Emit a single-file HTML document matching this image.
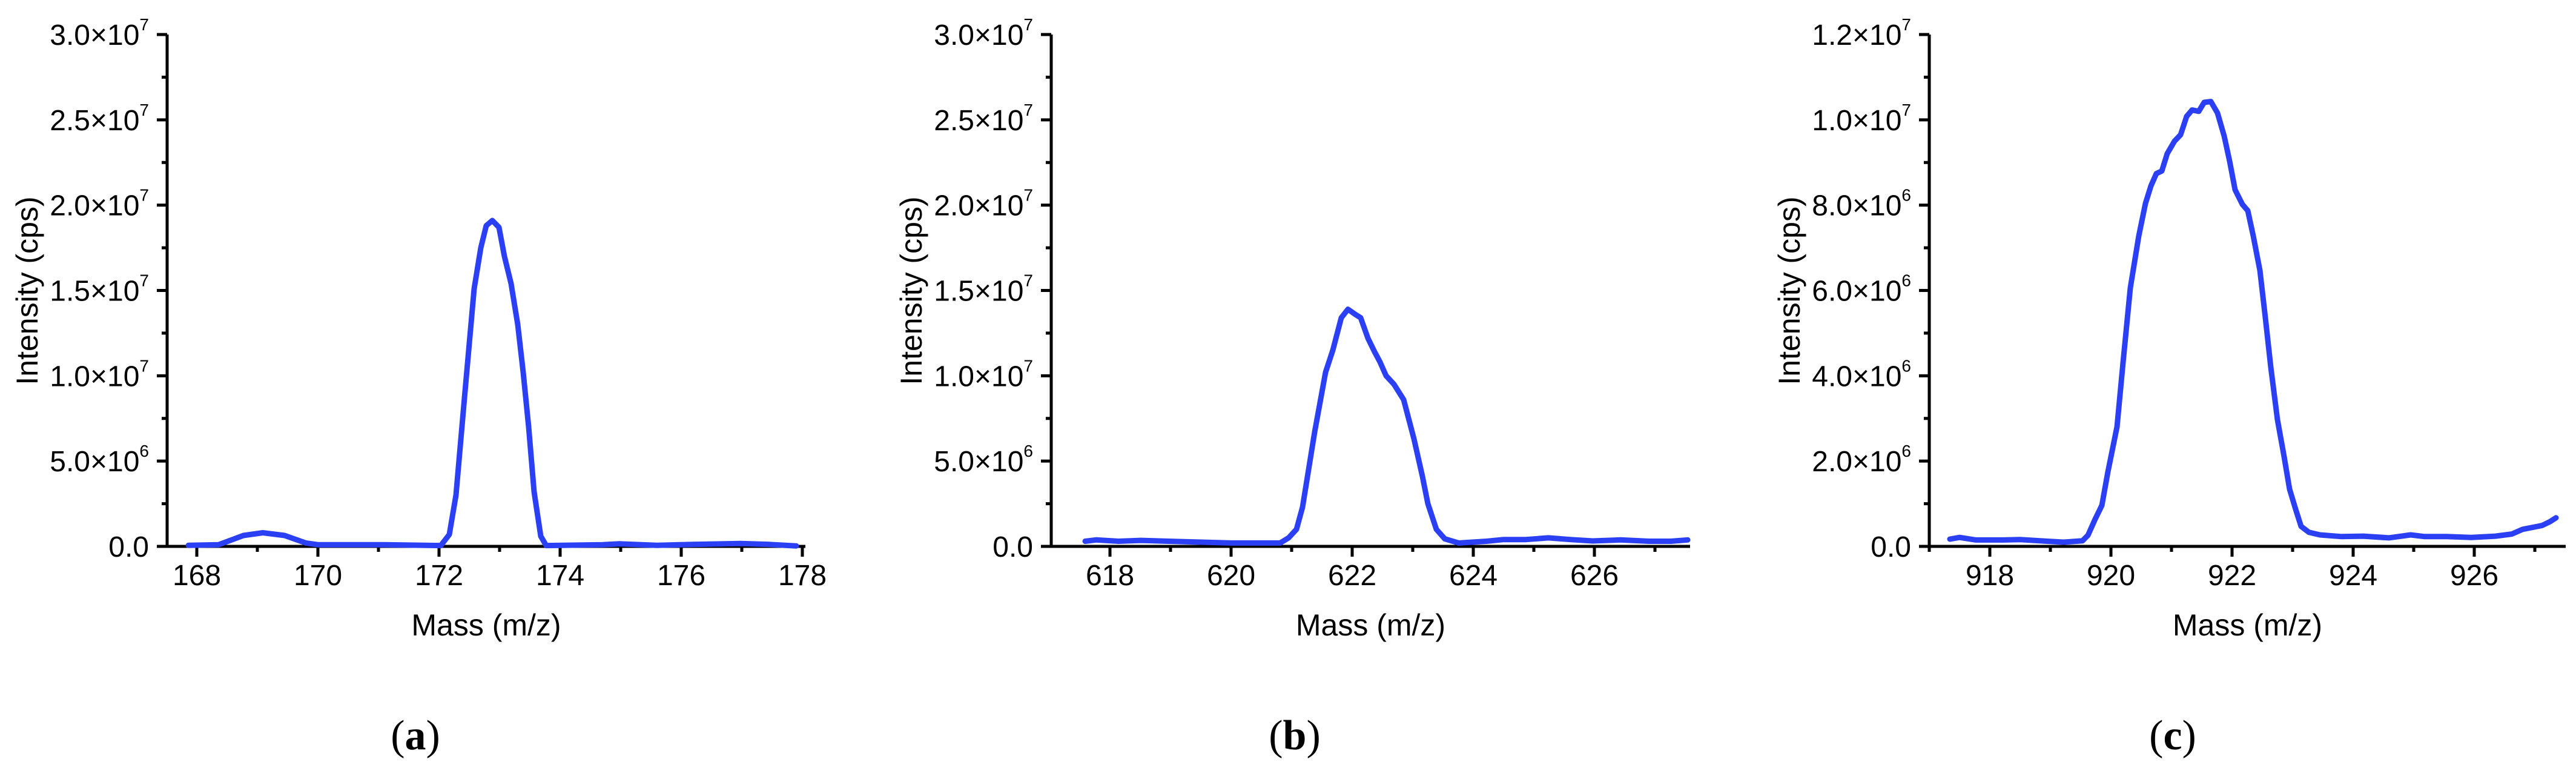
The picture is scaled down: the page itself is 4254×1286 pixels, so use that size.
<!DOCTYPE html>
<html><head><meta charset="utf-8">
<style>
html,body{margin:0;padding:0;background:#fff;}
svg{display:block;}
text{font-family:"Liberation Sans",sans-serif;fill:#000;}
.cap{font-family:"Liberation Serif",serif;}
</style></head>
<body>
<svg id="fig" width="4254" height="1286" viewBox="0 0 4254 1286" xmlns="http://www.w3.org/2000/svg"></svg>
<script>
// Panel (a) data: m/z and intensity (x1e7 cps)
const massA = [167.86,168.36,168.77,169.09,169.45,169.8,170,171.1,172.03,172.17,172.28,172.42,172.58,172.69,172.78,172.88,172.99,173.08,173.19,173.30,173.39,173.48,173.57,173.68,173.77,174.7,174.97,175.6,175.98,176.98,177.43,177.9];
const intA = [0.006,0.01,0.064,0.08,0.064,0.02,0.01,0.01,0.005,0.07,0.3,0.87,1.51,1.75,1.88,1.91,1.87,1.70,1.54,1.30,1.02,0.70,0.32,0.06,0.005,0.01,0.015,0.006,0.01,0.017,0.012,0.003];
// Panel (b) data: intensity (x1e7 cps)
const massB = [617.59,617.77,618.14,618.51,618.97,620,620.81,620.95,621.08,621.18,621.38,621.56,621.68,621.82,621.93,622.05,622.14,622.26,622.37,622.46,622.56,622.69,622.85,623.02,623.16,623.25,623.39,623.53,623.76,624.22,624.5,624.87,625.24,625.6,625.97,626.43,626.9,627.26,627.54];
const intB = [0.03,0.038,0.03,0.035,0.03,0.02,0.02,0.05,0.10,0.23,0.67,1.02,1.15,1.34,1.39,1.36,1.34,1.22,1.14,1.08,1.00,0.95,0.86,0.63,0.41,0.25,0.10,0.044,0.02,0.03,0.04,0.04,0.05,0.04,0.032,0.038,0.03,0.03,0.038];
// Panel (c) data: intensity (x1e6 cps)
const massC = [917.34,917.5,917.77,918.23,918.5,918.95,919.22,919.53,919.62,919.74,919.85,919.95,920.1,920.2,920.32,920.46,920.57,920.66,920.75,920.84,920.93,921.05,921.15,921.25,921.34,921.45,921.54,921.65,921.76,921.87,921.96,922.05,922.17,922.26,922.35,922.46,922.55,922.64,922.75,922.86,922.95,923.05,923.14,923.27,923.45,923.81,924.17,924.59,924.95,925.18,925.54,925.95,926.35,926.62,926.8,927.12,927.25,927.35];
const intC = [0.17,0.21,0.15,0.15,0.16,0.12,0.10,0.13,0.26,0.64,0.96,1.75,2.80,4.31,6.06,7.28,8.04,8.45,8.74,8.80,9.21,9.50,9.65,10.08,10.23,10.20,10.41,10.43,10.16,9.62,9.03,8.36,8.02,7.87,7.28,6.47,5.36,4.20,2.97,2.10,1.34,0.87,0.47,0.33,0.27,0.23,0.24,0.20,0.27,0.23,0.23,0.21,0.24,0.29,0.40,0.49,0.58,0.67];
// Tick labels
const xTicksA = [168,170,172,174,176,178];
const xTicksB = [618,620,622,624,626];
const xTicksC = [918,920,922,924,926];
const yTicksAB = [["0.0",""],["5.0×10","6"],["1.0×10","7"],["1.5×10","7"],["2.0×10","7"],["2.5×10","7"],["3.0×10","7"]];
const yTicksC = [["0.0",""],["2.0×10","6"],["4.0×10","6"],["6.0×10","6"],["8.0×10","6"],["1.0×10","7"],["1.2×10","7"]];

const NS = "http://www.w3.org/2000/svg";
const svg = document.getElementById('fig');
function mk(tag, attrs, parent){ const e=document.createElementNS(NS,tag); for(const k in attrs) e.setAttribute(k,attrs[k]); (parent||svg).appendChild(e); return e; }

const Y0 = 902, YTOP = 57;
function panel(id, cfg){
  const g = mk('g',{});
  
  
  const xs = v => cfg.refX + (v - cfg.ref) * 100;
  const ys = v => Y0 - v / cfg.ymax * (Y0 - YTOP);
  const ax = mk('path',{d:`M${cfg.ax} ${YTOP} V${Y0} H${cfg.axEnd}`, fill:'none', stroke:'#000','stroke-width':5}, g);
  
  
  const nY = cfg.yLabels.length;
  for(let i=0;i<nY;i++){
    const v = cfg.ymax * i/(nY-1);
    const y = ys(v);
    mk('line',{x1:cfg.ax-17,x2:cfg.ax,y1:y,y2:y,stroke:'#000','stroke-width':5},g);
    if(i<nY-1){ const ym=ys(v+cfg.ymax/(nY-1)/2); mk('line',{x1:cfg.ax-9,x2:cfg.ax,y1:ym,y2:ym,stroke:'#000','stroke-width':5},g); }
    const t = mk('text',{x:cfg.ax-30,y:y+17,'font-size':48,'text-anchor':'end'},g);
    
    
    t.textContent = cfg.yLabels[i][0];
    if(cfg.yLabels[i][1]){ const s=document.createElementNS(NS,'tspan'); s.setAttribute('font-size','28'); s.setAttribute('dy','-24'); s.textContent=cfg.yLabels[i][1]; t.appendChild(s); }
  }
  const lo = Math.ceil(cfg.ref - (cfg.refX-cfg.ax)/100), hi = Math.floor(cfg.ref + (cfg.axEnd-cfg.refX)/100);
  for(let v=lo; v<=hi; v++){
    const x = xs(v);
    const major = cfg.xTicks.indexOf(v)>=0;
    mk('line',{x1:x,x2:x,y1:Y0,y2:Y0+(major?17:9),stroke:'#000','stroke-width':5},g);
    if(major){ const t=mk('text',{x:x,y:966,'font-size':48,'text-anchor':'middle'},g);   t.textContent=v; }
  }
  const xt = mk('text',{x:(cfg.ax+cfg.axEnd)/2,y:1049,'font-size':50,'text-anchor':'middle'},g);
  
  
  xt.textContent = 'Mass (m/z)';
  const yt = mk('text',{x:0,y:0,'font-size':50,'text-anchor':'middle',transform:`translate(${cfg.ytX},480) rotate(-90)`},g);
  
  
  yt.textContent = 'Intensity (cps)';
  const d = cfg.mass.map((m,i)=>(i?'L':'M')+xs(m).toFixed(1)+' '+ys(cfg.vals[i]).toFixed(1)).join(' ');
  const p = mk('path',{d:d,fill:'none',stroke:'#2b3ff5','stroke-width':9,'stroke-linejoin':'round','stroke-linecap':'round'},g);
  
  
  const c = mk('text',{x:cfg.capX,y:1237,'font-size':70,'text-anchor':'middle',class:'cap'},g);
  
  
  c.innerHTML = '(<tspan font-weight="bold">'+id+'</tspan>)';
}
panel('a',{ax:276,axEnd:1330,ref:168,refX:325,ymax:3.0,yLabels:yTicksAB,xTicks:xTicksA,mass:massA,vals:intA,ytX:62,capX:686});
panel('b',{ax:1736,axEnd:2791,ref:618,refX:1833,ymax:3.0,yLabels:yTicksAB,xTicks:xTicksB,mass:massB,vals:intB,ytX:1522,capX:2138});
panel('c',{ax:3186,axEnd:4237,ref:918,refX:3286,ymax:12,yLabels:yTicksC,xTicks:xTicksC,mass:massC,vals:intC,ytX:2972,capX:3588});
</script>
</body></html>
